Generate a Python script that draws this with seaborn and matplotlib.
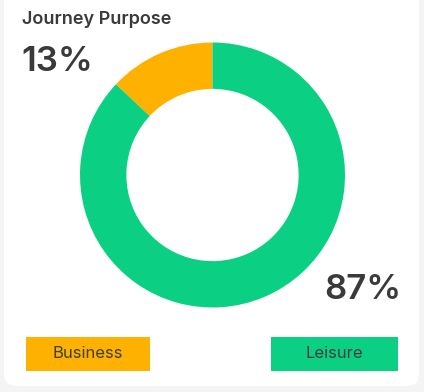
import matplotlib.pyplot as plt
import seaborn as sns
from matplotlib.patches import FancyBboxPatch, Rectangle

sns.set_theme(style="white")
plt.rcParams['font.family'] = ['Inter', 'DejaVu Sans']

# data
purposes = ['Business', 'Leisure']
shares = [13, 87]
colors = sns.color_palette(['#FFB100', '#0BD084'])

W, H = 424, 392
fig = plt.figure(figsize=(W / 100, H / 100), dpi=100)
fig.patch.set_facecolor('#f4f4f4')

# white card
card = FancyBboxPatch((4 / W, 6 / H), 415 / W, 400 / H,
                      boxstyle="round,pad=0,rounding_size=0.03",
                      transform=fig.transFigure, facecolor='white',
                      edgecolor='none', zorder=-1)
fig.patches.append(card)

# donut
cx, cy, r = 212.5, 175, 132.5
ax = fig.add_axes([(cx - r) / W, (H - cy - r) / H, 2 * r / W, 2 * r / H])
ax.patch.set_alpha(0)
ax.pie(shares, colors=colors, startangle=90, counterclock=True,
       wedgeprops=dict(width=0.35, edgecolor='none'))
ax.set_xlim(-1, 1)
ax.set_ylim(-1, 1)
ax.axis('off')

txt = '#3a3a3c'
fig.text(22 / W, 1 - 20 / H, 'Journey Purpose', fontsize=13, fontweight='semibold',
         color=txt, va='center', ha='left')
fig.text(21 / W, 1 - 62 / H, f'{shares[0]}%', fontsize=25, fontweight='semibold',
         color=txt, va='center', ha='left')
fig.text(401 / W, 1 - 290 / H, f'{shares[1]}%', fontsize=25, fontweight='semibold',
         color=txt, va='center', ha='right')

# legend boxes
boxes = [(26, 150), (271, 398)]
for (x0, x1), name, c in zip(boxes, purposes, colors):
    fig.patches.append(Rectangle((x0 / W, 1 - 371 / H), (x1 - x0) / W, 34 / H,
                                 transform=fig.transFigure, facecolor=c,
                                 edgecolor='none'))
    fig.text((x0 + x1) / 2 / W, 1 - 354 / H, name, fontsize=12, color='#3f3f3f',
             ha='center', va='center')

fig.savefig('out.png', dpi=100)
